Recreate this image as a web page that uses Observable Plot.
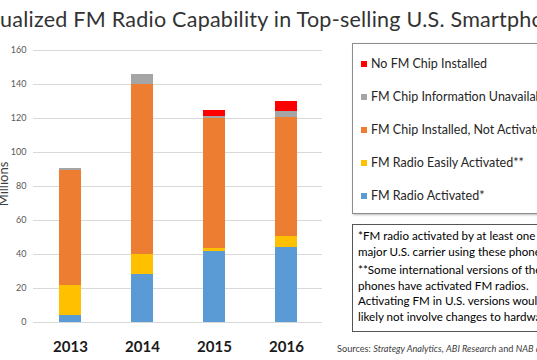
<!DOCTYPE html>
<html><head><meta charset="utf-8">
<script src="https://cdn.jsdelivr.net/npm/d3@7"></script>
<script src="https://cdn.jsdelivr.net/npm/@observablehq/plot@0.6"></script>
<style>
body{margin:0;background:#fff;font-family:Lato,"Open Sans",sans-serif;}
#wrap{position:relative;width:537px;height:360px;overflow:hidden;background:#fff;}
#title{position:absolute;left:0px;top:6px;font-size:21.5px;letter-spacing:0.25px;color:#333;white-space:nowrap;}
#chart{position:absolute;left:0;top:40px;}
#ylab{position:absolute;left:-22px;top:176px;width:50px;text-align:center;font-size:13px;color:#404040;transform:rotate(-90deg);}
#legend{position:absolute;left:352px;top:43px;width:200px;height:169px;border:1px solid #8c8c8c;box-shadow:1px 1px 2px #bbb;background:#fff;}
.row{position:absolute;left:8px;font-size:12.5px;color:#262626;white-space:nowrap;line-height:14px;}
.sw{display:inline-block;width:6px;height:6px;margin-right:4px;vertical-align:1px;}
#note{position:absolute;left:352px;top:224px;width:200px;height:106px;border:1px solid #555;background:#fff;}
#note p{margin:0;position:absolute;left:5px;font-size:11.6px;line-height:15.5px;color:#000;white-space:nowrap;}
#src{position:absolute;left:337px;top:343px;font-size:9.2px;color:#404040;white-space:nowrap;}
</style>
</head><body>
<div id="wrap">
<div id="title">ualized FM Radio Capability in Top-selling U.S. Smartphones</div>
<div id="chart"></div>
<div id="ylab">Millions</div>
<div id="legend"></div>
<div id="note">
<p style="top:3px">*FM radio activated by at least one<br>major U.S. carrier using these phones</p>
<p style="top:37px">**Some international versions of these<br>phones have activated FM radios.<br>Activating FM in U.S. versions would<br>likely not involve changes to hardware</p>
</div>
<div id="src">Sources: <i>Strategy Analytics</i>, <i>ABI Research</i> and <i>NAB analysis</i></div>
</div>
<script>
const years = ["2013","2014","2015","2016"];
const series = ["FM Radio Activated*","FM Radio Easily Activated**","FM Chip Installed, Not Activated","FM Chip Information Unavailable","No FM Chip Installed"];
const colors = ["#5B9BD5","#FFC000","#ED7D31","#A5A5A5","#FF0000"];
const activated    = [4, 28, 42, 44.3];
const easily       = [18, 12, 1.6, 6.3];
const notActivated = [67.5, 100, 76.4, 70.2];
const unavailable  = [1.2, 6, 1, 3.3];
const noChip       = [0, 0, 4, 5.9];
const yTicks = [0,20,40,60,80,100,120,140,160];

const values = [activated, easily, notActivated, unavailable, noChip];
const data = [];
series.forEach((s,i)=>years.forEach((y,j)=>data.push({year:y, series:s, value:values[i][j]})));

const chart = Plot.plot({
  width:330, height:320, marginTop:10, marginBottom:38, marginLeft:33, marginRight:8,
  style:{fontFamily:"Lato, 'Open Sans', sans-serif", background:"transparent"},
  x:{domain:years, paddingInner:0.7, paddingOuter:0.35, label:null},
  y:{domain:[0,160], label:null},
  color:{domain:series, range:colors},
  marks:[
    Plot.ruleY(yTicks,{stroke:"#d9d9d9", strokeWidth:1}),
    Plot.barY(data,{x:"year", y:"value", fill:"series", order:series, shapeRendering:"crispEdges"}),
    Plot.axisY(yTicks,{tickSize:0, tickPadding:7, fontSize:9, color:"#595959", label:null}),
    Plot.axisX({tickSize:0, tickPadding:19, fontSize:15, fontWeight:"bold", color:"#1a1a1a", label:null})
  ]
});
document.getElementById("chart").appendChild(chart);

const legend = document.getElementById("legend");
const rowTops = [13, 46, 79, 112, 145];
series.slice().reverse().forEach((s,i)=>{
  const d = document.createElement("div");
  d.className = "row";
  d.style.top = rowTops[i] + "px";
  const sw = document.createElement("span");
  sw.className = "sw";
  sw.style.background = colors[series.indexOf(s)];
  d.appendChild(sw);
  d.appendChild(document.createTextNode(s));
  legend.appendChild(d);
});
</script>
</body></html>
